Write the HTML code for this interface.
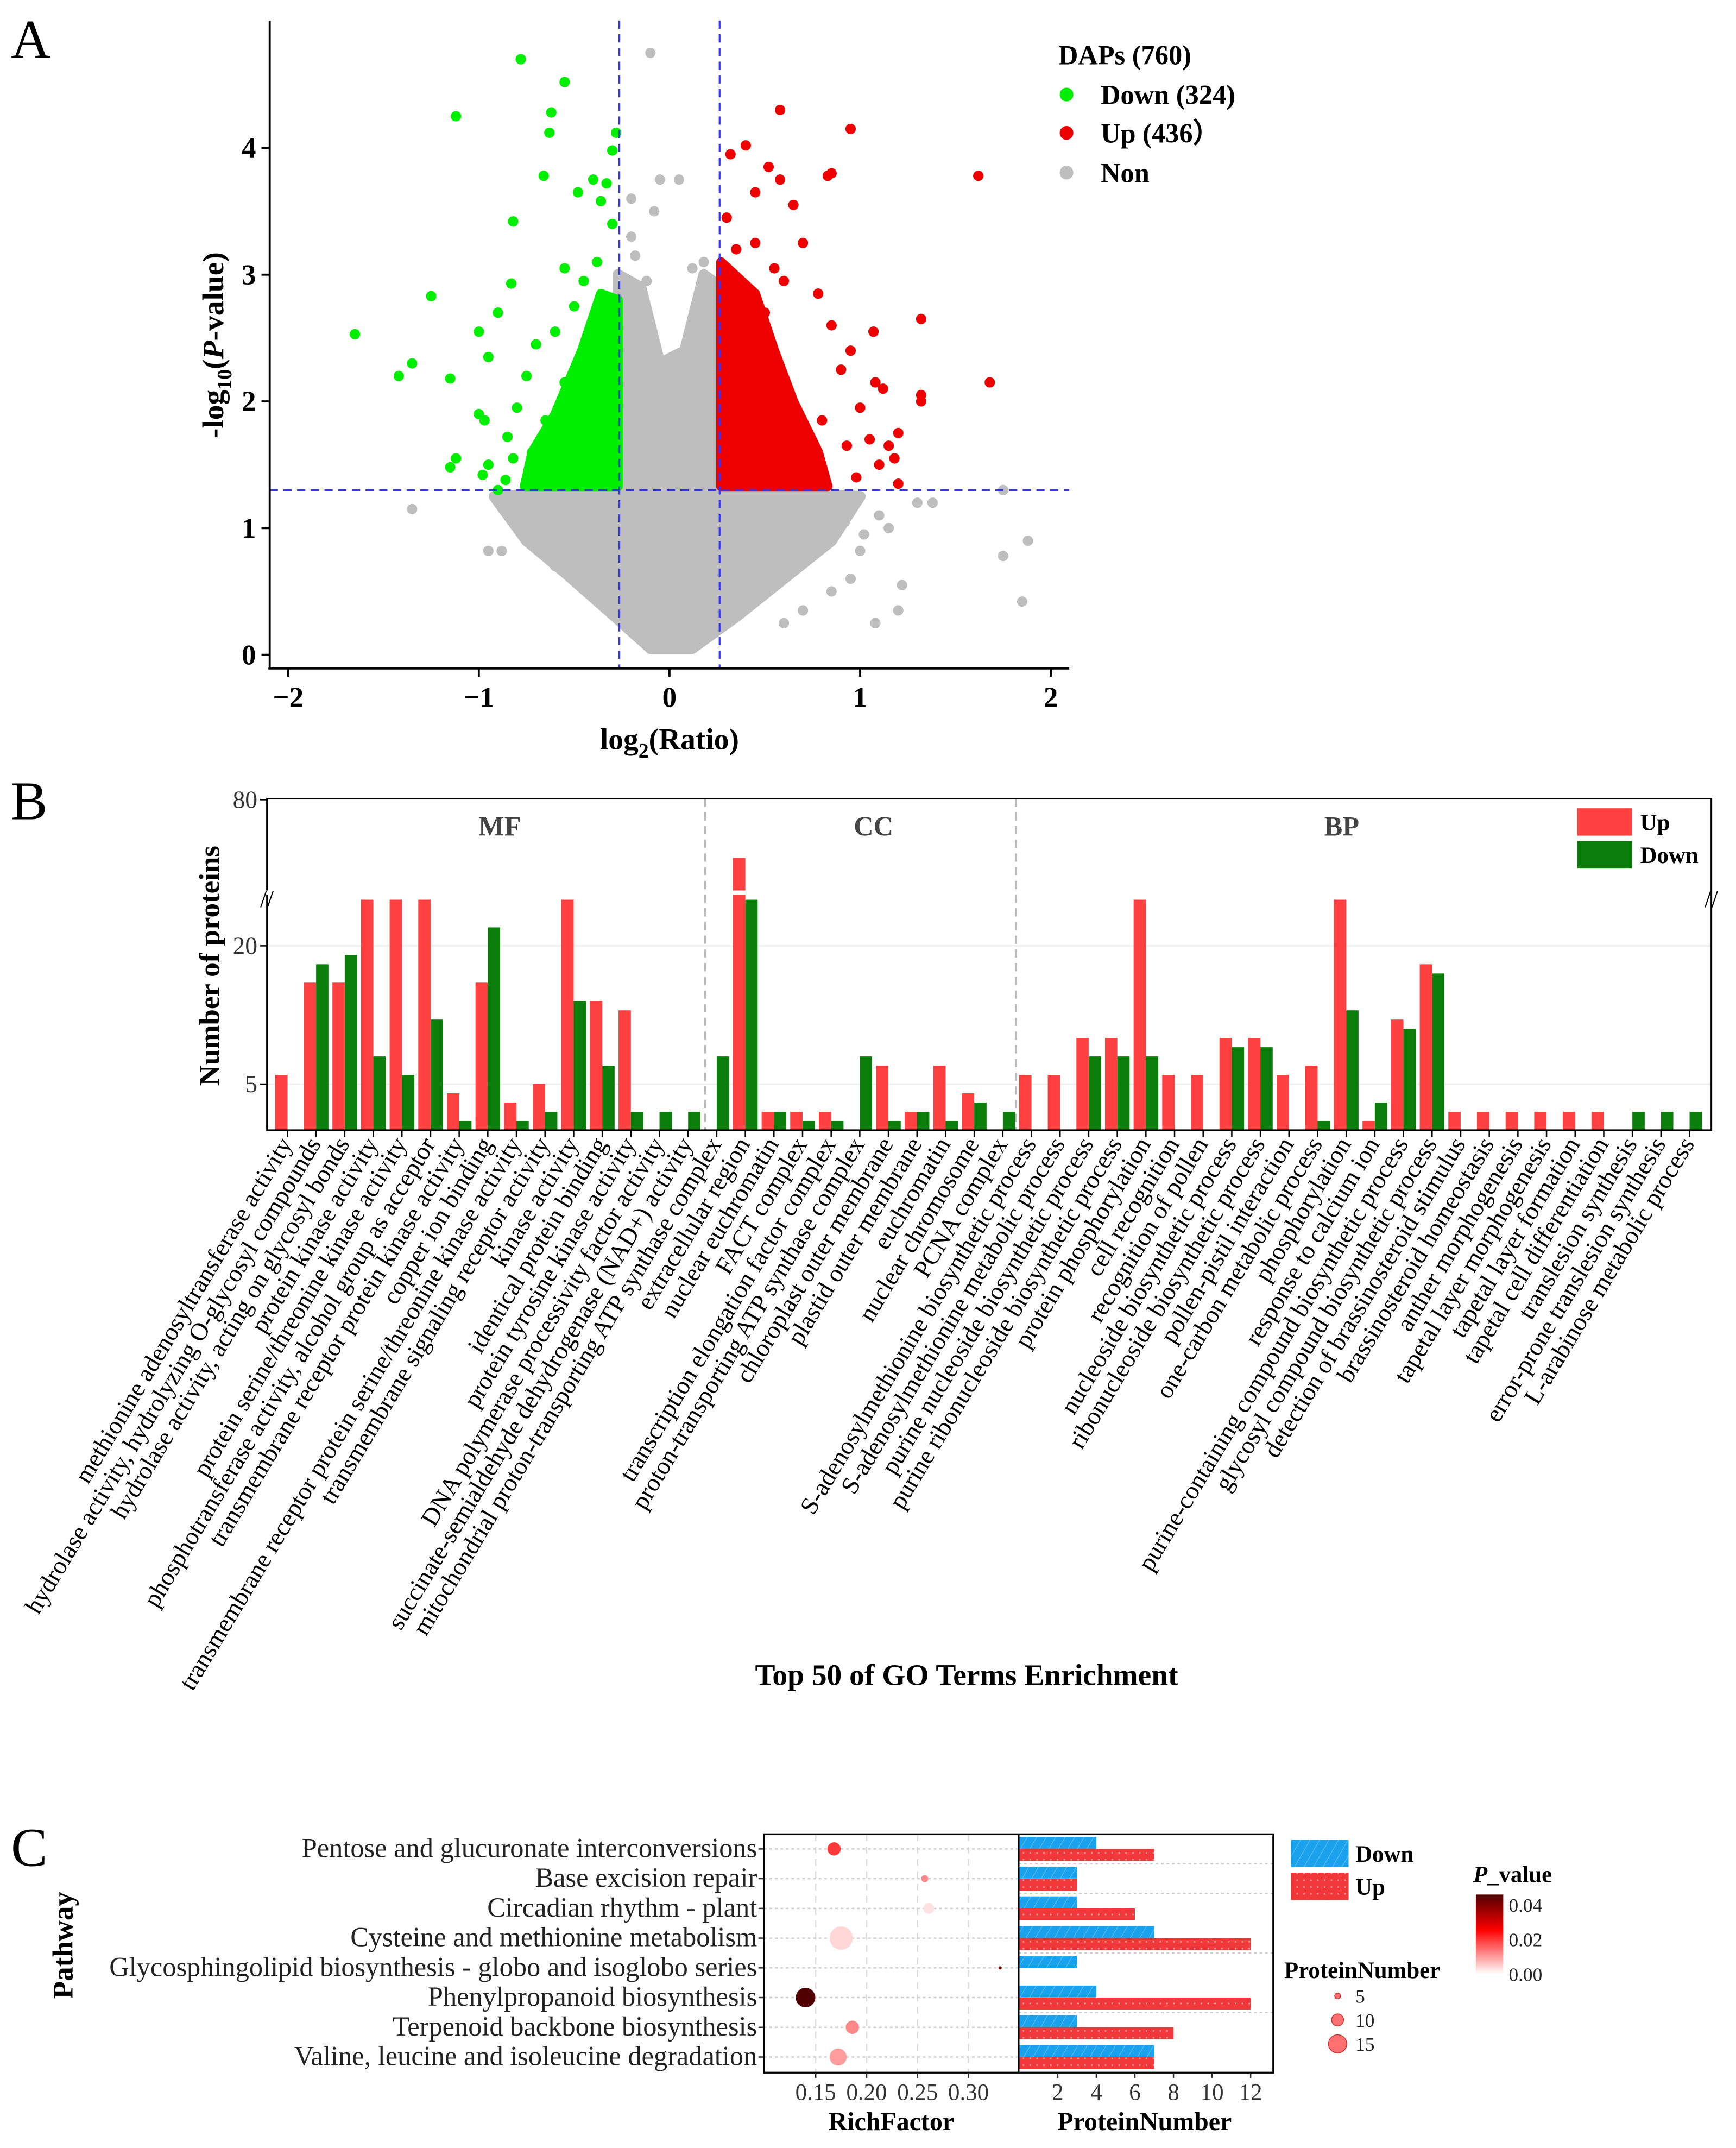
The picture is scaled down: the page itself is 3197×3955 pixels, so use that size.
<!DOCTYPE html>
<html><head><meta charset="utf-8"><style>
html,body{margin:0;padding:0;background:#fff}
svg{display:block}
text{font-family:"Liberation Serif",serif}
</style></head><body>
<svg id="fig" xmlns="http://www.w3.org/2000/svg" width="3197" height="3955" viewBox="0 0 1268 1568" preserveAspectRatio="none">
<defs>
<pattern id="hatch" width="6" height="6" patternUnits="userSpaceOnUse" patternTransform="rotate(30)"><rect width="6" height="6" fill="#1aa3ec"/><line x1="0" y1="0" x2="0" y2="6" stroke="#4bb8f0" stroke-width="1.2"/></pattern>
<pattern id="dots" width="5" height="5" patternUnits="userSpaceOnUse"><rect width="5" height="5" fill="#f0383b"/><circle cx="2.5" cy="2.5" r="0.6" fill="#f8a0a0"/></pattern>
<linearGradient id="pgrad" x1="0" y1="1" x2="0" y2="0"><stop offset="0" stop-color="#ffffff"/><stop offset="0.45" stop-color="#ff3030"/><stop offset="0.55" stop-color="#ff0000"/><stop offset="1" stop-color="#500000"/></linearGradient>
</defs>
<g id="panelA"></g>
<g id="panelB"></g>
<g id="panelC"></g>
</svg>
<script>
// ---------- Panel A data ----------
const greenX=[-0.78,-0.55,-1.12,-0.62,-0.63,-0.28,-0.30,-0.66,-0.40,-0.33,-0.48,-0.36,-0.82,-0.30,-0.55,-0.83,-1.25,-1.65,-1.35,-1.42,-1.15,-1.00,-0.95,-0.90,-1.00,-0.97,-1.12,-1.15,-0.95,-0.98,-0.82,-0.85,-0.72,-0.80,-0.75,-0.70,-0.60,-0.50,-0.45,-0.38,-0.30,-0.90,-0.86,-0.70,-0.65,-0.55,-0.35];
const greenY=[4.70,4.52,4.25,4.28,4.12,4.12,3.98,3.78,3.75,3.72,3.65,3.58,3.42,3.40,3.05,2.93,2.83,2.53,2.30,2.20,2.18,2.55,2.35,2.70,1.90,1.85,1.55,1.48,1.50,1.42,1.55,1.72,1.60,1.95,2.20,2.45,2.55,2.75,2.95,3.10,2.80,1.30,1.38,1.35,1.85,2.15,2.50];
const redX=[0.58,0.95,0.40,0.52,0.85,0.83,1.62,0.58,0.32,0.45,0.65,0.30,0.70,0.35,1.32,1.07,1.08,1.12,1.68,1.32,1.32,0.95,0.85,0.78,0.90,1.00,1.05,1.15,1.20,1.18,1.10,1.20,0.98,0.93,0.80,0.60,0.55,0.45,0.50];
const redY=[4.30,4.15,4.02,3.85,3.80,3.78,3.78,3.75,3.95,3.65,3.55,3.45,3.25,3.20,2.65,2.55,2.15,2.10,2.15,2.05,2.00,2.40,2.60,2.85,2.25,1.95,1.70,1.65,1.75,1.55,1.50,1.35,1.40,1.65,1.85,2.95,3.05,3.25,2.70];
const grayX=[-1.35,-0.95,-0.88,-0.10,1.30,1.38,1.75,1.75,1.88,1.85,1.22,1.08,1.20,0.95,1.00,0.92,0.75,0.85,-0.05,0.05,-0.20,0.12,-0.20,-0.08,-0.60,-0.45,1.02,0.60,0.70,-0.75,-0.62,-0.50,-0.40,0.45,0.55,0.65,1.10,1.15,-0.18,-0.12,0.18,0.22];
const grayY=[1.15,0.82,0.82,4.75,1.20,1.20,1.30,0.78,0.90,0.42,0.55,0.25,0.35,0.60,0.82,1.05,0.90,0.50,3.75,3.75,3.60,3.05,3.30,3.50,0.70,0.55,0.95,0.25,0.35,0.95,0.80,0.62,0.50,0.45,0.55,0.70,1.10,1.00,3.15,2.95,3.10,2.85];
const grayCloudX=[-0.92,-0.75,-0.55,-0.30,-0.10,0.12,0.35,0.60,0.85,1.00,0.27,0.27,0.18,0.08,-0.05,-0.15,-0.27,-0.27];
const grayCloudY=[1.25,0.90,0.65,0.32,0.05,0.05,0.30,0.60,0.90,1.25,1.30,2.90,3.00,2.40,2.30,2.90,3.00,1.30];
const greenCloudX=[-0.76,-0.27,-0.27,-0.36,-0.46,-0.60,-0.72];
const greenCloudY=[1.33,1.33,2.80,2.85,2.40,1.90,1.60];
const redCloudX=[0.27,0.83,0.78,0.65,0.55,0.45,0.27];
const redCloudY=[1.33,1.33,1.60,2.00,2.40,2.85,3.10];
const xTicksA=[-2,-1,0,1,2];
const yTicksA=[0,1,2,3,4];
// ---------- Panel B data ----------
const goTerms=["methionine adenosyltransferase activity","hydrolase activity, hydrolyzing O-glycosyl compounds","hydrolase activity, acting on glycosyl bonds","protein kinase activity","protein serine/threonine kinase activity","phosphotransferase activity, alcohol group as acceptor","transmembrane receptor protein kinase activity","copper ion binding","transmembrane receptor protein serine/threonine kinase activity","transmembrane signaling receptor activity","kinase activity","identical protein binding","protein tyrosine kinase activity","DNA polymerase processivity factor activity","succinate-semialdehyde dehydrogenase (NAD+) activity","mitochondrial proton-transporting ATP synthase complex","extracellular region","nuclear euchromatin","FACT complex","transcription elongation factor complex","proton-transporting ATP synthase complex","chloroplast outer membrane","plastid outer membrane","euchromatin","nuclear chromosome","PCNA complex","S-adenosylmethionine biosynthetic process","S-adenosylmethionine metabolic process","purine nucleoside biosynthetic process","purine ribonucleoside biosynthetic process","protein phosphorylation","cell recognition","recognition of pollen","nucleoside biosynthetic process","ribonucleoside biosynthetic process","pollen-pistil interaction","one-carbon metabolic process","phosphorylation","response to calcium ion","purine-containing compound biosynthetic process","glycosyl compound biosynthetic process","detection of brassinosteroid stimulus","brassinosteroid homeostasis","anther morphogenesis","tapetal layer morphogenesis","tapetal layer formation","tapetal cell differentiation","translesion synthesis","error-prone translesion synthesis","L-arabinose metabolic process"];
const upCounts=[6,16,16,25,25,25,4,16,3,5,25,14,13,0,0,0,48,2,2,2,0,7,2,7,4,0,6,6,10,10,25,6,6,10,10,6,7,25,1,12,18,2,2,2,2,2,2,0,0,0];
const downCounts=[0,18,19,8,6,12,1,22,1,2,14,7,2,2,2,8,25,2,1,1,8,1,2,1,3,2,0,0,8,8,8,0,0,9,9,0,1,13,3,11,17,0,0,0,0,0,0,2,2,2];
const yTicksB=[5,20,80];
// ---------- Panel C data ----------
const pathways=["Pentose and glucuronate interconversions","Base excision repair","Circadian rhythm - plant","Cysteine and methionine metabolism","Glycosphingolipid biosynthesis - globo and isoglobo series","Phenylpropanoid biosynthesis","Terpenoid backbone biosynthesis","Valine, leucine and isoleucine degradation"];
const richFactor=[0.168,0.257,0.261,0.175,0.331,0.140,0.186,0.172];
const pValues=[0.020,0.012,0.003,0.004,0.040,0.046,0.012,0.010];
const totalNumber=[11,6,9,19,3,16,11,14];
const downNumber=[4,3,3,7,3,4,3,7];
const upNumber=[7,3,6,12,0,12,8,7];
const rfTicks=[0.15,0.20,0.25,0.30];
const pnTicks=[2,4,6,8,10,12];
const sizeLegend=[5,10,15];
const pLegend=[0.00,0.02,0.04];

const NS="http://www.w3.org/2000/svg";
function mk(parent,tag,attrs,txt){const e=document.createElementNS(NS,tag);for(const k in attrs)e.setAttribute(k,attrs[k]);if(txt!==undefined)e.textContent=txt;parent.appendChild(e);return e;}

// ================= Panel A =================
(function(){
const g=document.getElementById('panelA');
const X=v=>489+v*139.25, Y=v=>478-v*92.5;
let t=mk(g,'text',{x:8,y:42,'font-size':40});
t.textContent='A';
const pts=(xs,ys)=>xs.map((v,i)=>X(v)+','+Y(ys[i])).join(' ');
let p=mk(g,'polygon',{points:pts(grayCloudX,grayCloudY),fill:'#bebebe',stroke:'#bebebe','stroke-width':8,'stroke-linejoin':'round'});

grayX.forEach((v,i)=>{const c=mk(g,'circle',{cx:X(v),cy:Y(grayY[i]),r:3.8,fill:'#bebebe'});
});
p=mk(g,'polygon',{points:pts(greenCloudX,greenCloudY),fill:'#00ee00',stroke:'#00ee00','stroke-width':7,'stroke-linejoin':'round'});

greenX.forEach((v,i)=>{const c=mk(g,'circle',{cx:X(v),cy:Y(greenY[i]),r:3.8,fill:'#00ee00'});
});
p=mk(g,'polygon',{points:pts(redCloudX,redCloudY),fill:'#ee0000',stroke:'#ee0000','stroke-width':7,'stroke-linejoin':'round'});

redX.forEach((v,i)=>{const c=mk(g,'circle',{cx:X(v),cy:Y(redY[i]),r:3.8,fill:'#ee0000'});
});
[X(-0.263),X(0.263)].forEach(x=>{const l=mk(g,'line',{x1:x,y1:15,x2:x,y2:487,stroke:'#3333ff','stroke-width':1.3,'stroke-dasharray':'6,4'});
});
let l=mk(g,'line',{x1:197,y1:Y(1.3),x2:781,y2:Y(1.3),stroke:'#3333ff','stroke-width':1.3,'stroke-dasharray':'6,4'});

l=mk(g,'line',{x1:197,y1:15,x2:197,y2:488,stroke:'#000','stroke-width':1.5});

l=mk(g,'line',{x1:196,y1:488,x2:781,y2:488,stroke:'#000','stroke-width':1.5});

xTicksA.forEach(v=>{mk(g,'line',{x1:X(v),y1:488,x2:X(v),y2:494,stroke:'#000','stroke-width':1.5});
const tt=mk(g,'text',{x:X(v),y:516,'font-size':21,'font-weight':'bold','text-anchor':'middle'},v<0?'\u2212'+(-v):String(v));
});
yTicksA.forEach(v=>{mk(g,'line',{x1:191,y1:Y(v),x2:197,y2:Y(v),stroke:'#000','stroke-width':1.5});
const tt=mk(g,'text',{x:187,y:Y(v)+7,'font-size':21,'font-weight':'bold','text-anchor':'end'},String(v));
});
t=mk(g,'text',{x:489,y:547,'font-size':22,'font-weight':'bold','text-anchor':'middle'});
t.innerHTML='log<tspan font-size="15" dy="6">2</tspan><tspan dy="-6">(Ratio)</tspan>';

t=mk(g,'text',{x:0,y:0,'font-size':22,'font-weight':'bold','text-anchor':'middle',transform:'translate(163,252) rotate(-90)'});
t.innerHTML='-log<tspan font-size="15" dy="6">10</tspan><tspan dy="-6">(</tspan><tspan font-style="italic">P</tspan>-value)';

t=mk(g,'text',{x:773,y:47,'font-size':20,'font-weight':'bold'},'DAPs (760)');

[['Down (324)','#00ee00',70],['Up (436\uFF09','#ee0000',98],['Non','#bebebe',127]].forEach(a=>{
const c=mk(g,'circle',{cx:779,cy:a[2]-1,r:5,fill:a[1]});
const tt=mk(g,'text',{x:804,y:a[2]+6,'font-size':20,'font-weight':'bold'},a[0]);});
})();

// ================= Panel B =================
(function(){
const g=document.getElementById('panelB');
const top=583,bot=825,left=195,right=1250;
const Y=v=>v<=25? bot-v*6.73 : (bot-25*6.73)-(v-25)*(73/55);
const C=i=>210+i*20.9;
let t=mk(g,'text',{x:8,y:598,'font-size':40},'B');

[20,5].forEach(v=>{mk(g,'line',{x1:left,y1:Y(v),x2:right,y2:Y(v),stroke:'#eee','stroke-width':1});});
[515,742].forEach(x=>{const l=mk(g,'line',{x1:x,y1:top,x2:x,y2:bot,stroke:'#bbb','stroke-width':1.2,'stroke-dasharray':'6,4'});
});
[['MF',365],['CC',638],['BP',980]].forEach(a=>{const tt=mk(g,'text',{x:a[1],y:610,'font-size':20,'font-weight':'bold','fill':'#444','text-anchor':'middle'},a[0]);
});
goTerms.forEach((name,i)=>{
 const c=C(i);
 if(upCounts[i]>0){const r=mk(g,'rect',{x:c-9,y:Y(upCounts[i]),width:9,height:bot-Y(upCounts[i]),fill:'#ff4040'});
 }
 if(downCounts[i]>0){const r=mk(g,'rect',{x:c,y:Y(downCounts[i]),width:9,height:bot-Y(downCounts[i]),fill:'#0a7d0a'});
 }
 mk(g,'line',{x1:c,y1:bot,x2:c,y2:bot+5,stroke:'#000','stroke-width':1});
 const tt=mk(g,'text',{x:0,y:0,'font-size':18.3,'text-anchor':'end',transform:`translate(${c+4},${bot+10}) rotate(-59)`},name);
 
});
mk(g,'rect',{x:left-6,y:650,width:right-left+14,height:3,fill:'#fff'});
mk(g,'rect',{x:left,y:top,width:right-left,height:bot-top,fill:'none',stroke:'#000','stroke-width':1.2});
mk(g,'rect',{x:left-6,y:650,width:10,height:3,fill:'#fff'});
[left,right].forEach(x=>{const tt=mk(g,'text',{x:x,y:662,'font-size':18,'text-anchor':'middle'},'//');});
yTicksB.forEach(v=>{mk(g,'line',{x1:left-5,y1:Y(v),x2:left,y2:Y(v),stroke:'#000','stroke-width':1});
const tt=mk(g,'text',{x:left-7,y:Y(v)+6,'font-size':18,'text-anchor':'end','fill':'#333'},String(v));
});
t=mk(g,'text',{x:0,y:0,'font-size':21,'font-weight':'bold','text-anchor':'middle',transform:'translate(160,705) rotate(-90)'},'Number of proteins');

t=mk(g,'text',{x:706,y:1230,'font-size':22,'font-weight':'bold','text-anchor':'middle'},'Top 50 of GO Terms Enrichment');

[['Up','#ff4040',590],['Down','#0a7d0a',614]].forEach(a=>{const r=mk(g,'rect',{x:1152,y:a[2],width:40,height:20,fill:a[1]});

const tt=mk(g,'text',{x:1198,y:a[2]+16,'font-size':17,'font-weight':'bold'},a[0]);});
})();

// ================= Panel C =================
(function(){
const g=document.getElementById('panelC');
const L=558,M=744,R=930,T=1339,B=1513;
const XR=v=>595.8+(v-0.15)*744, XN=v=>744.4+v*14.09, Yr=i=>1349.7+i*21.7;
let t=mk(g,'text',{x:8,y:1362,'font-size':40},'C');

rfTicks.forEach(v=>{mk(g,'line',{x1:XR(v),y1:T,x2:XR(v),y2:B,stroke:'#ddd','stroke-width':1,'stroke-dasharray':'5,4'});});
pathways.forEach((n,i)=>{
 mk(g,'line',{x1:L,y1:Yr(i),x2:M,y2:Yr(i),stroke:'#ccc','stroke-width':1,'stroke-dasharray':'2,2'});
 mk(g,'line',{x1:L-4,y1:Yr(i),x2:L,y2:Yr(i),stroke:'#333','stroke-width':1});
 const tt=mk(g,'text',{x:L-5,y:Yr(i)+6,'font-size':20,'text-anchor':'end','fill':'#222'},n);
 
});
[1,2,4,6].forEach(k=>{mk(g,'line',{x1:M,y1:(Yr(k-1)+Yr(k))/2,x2:R,y2:(Yr(k-1)+Yr(k))/2,stroke:'#ccc','stroke-width':1,'stroke-dasharray':'2,2'});});
const col=p=>{const f=Math.min(p/0.046,1);
 if(f<0.45){const k=f/0.45;return `rgb(255,${Math.round(255-205*k)},${Math.round(255-205*k)})`;}
 const k=(f-0.45)/0.55;return `rgb(${Math.round(255-175*k)},${Math.round(20-20*k)},0)`;};
const rad=n=>1.2+(n-3)/16*7.3;
richFactor.forEach((v,i)=>{const c=mk(g,'circle',{cx:XR(v),cy:Yr(i),r:rad(totalNumber[i]),fill:col(pValues[i])});
});
downNumber.forEach((v,i)=>{if(v>0){const r=mk(g,'rect',{x:M,y:Yr(i)-8.8,width:XN(v)-M,height:8.7,fill:'url(#hatch)'});
}});
upNumber.forEach((v,i)=>{if(v>0){const r=mk(g,'rect',{x:M,y:Yr(i),width:XN(v)-M,height:8.7,fill:'url(#dots)'});
}});
mk(g,'rect',{x:L,y:T,width:R-L,height:B-T,fill:'none',stroke:'#000','stroke-width':1.3});
mk(g,'line',{x1:M,y1:T,x2:M,y2:B,stroke:'#000','stroke-width':1.3});
rfTicks.forEach(v=>{mk(g,'line',{x1:XR(v),y1:B,x2:XR(v),y2:B+4,stroke:'#333'});
const tt=mk(g,'text',{x:XR(v),y:B+20,'font-size':17,'text-anchor':'middle','fill':'#333'},v.toFixed(2));
});
pnTicks.forEach(v=>{mk(g,'line',{x1:XN(v),y1:B,x2:XN(v),y2:B+4,stroke:'#333'});
const tt=mk(g,'text',{x:XN(v),y:B+20,'font-size':17,'text-anchor':'middle','fill':'#333'},String(v));
});
t=mk(g,'text',{x:651,y:1555,'font-size':19,'font-weight':'bold','text-anchor':'middle'},'RichFactor');

t=mk(g,'text',{x:836,y:1555,'font-size':19,'font-weight':'bold','text-anchor':'middle'},'ProteinNumber');

t=mk(g,'text',{x:0,y:0,'font-size':21,'font-weight':'bold','text-anchor':'middle',transform:'translate(53,1420) rotate(-90)'},'Pathway');

[['Down','url(#hatch)',1343],['Up','url(#dots)',1367]].forEach(a=>{const r=mk(g,'rect',{x:943,y:a[2],width:42,height:20,fill:a[1]});

const tt=mk(g,'text',{x:990,y:a[2]+16,'font-size':17,'font-weight':'bold'},a[0]);});
t=mk(g,'text',{x:1076,y:1374,'font-size':17,'font-weight':'bold'});
t.innerHTML='<tspan font-style="italic">P</tspan>_value';

let r=mk(g,'rect',{x:1078,y:1383,width:20,height:58,fill:'url(#pgrad)'});

pLegend.forEach(v=>{const y=1441-v/0.046*58;
const tt=mk(g,'text',{x:1102,y:y+5,'font-size':14,'fill':'#222'},v.toFixed(2));
});
t=mk(g,'text',{x:938,y:1444,'font-size':17,'font-weight':'bold'},'ProteinNumber');

sizeLegend.forEach((v,i)=>{const y=1457+i*17.5;
const c=mk(g,'circle',{cx:977,cy:y,r:rad(v),fill:'#ff7070',stroke:'#c33','stroke-width':0.6});

const tt=mk(g,'text',{x:990,y:y+5,'font-size':14,'fill':'#222'},String(v));
});
})();
</script>
</body></html>
